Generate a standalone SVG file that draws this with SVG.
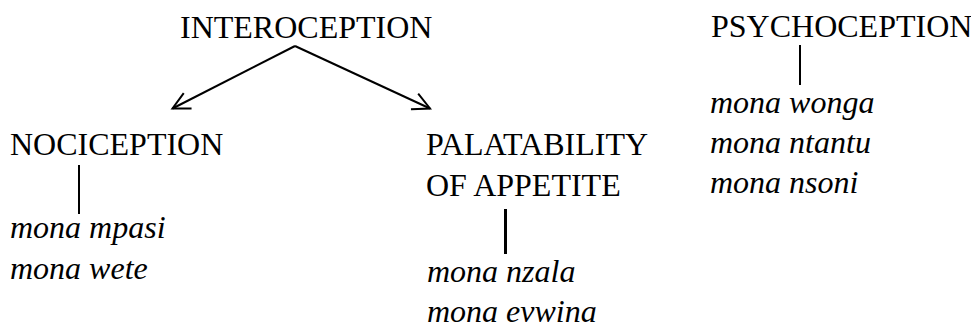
<svg xmlns="http://www.w3.org/2000/svg" width="971" height="324" viewBox="0 0 971 324">
<style>
.t{font-family:"Liberation Serif","Times New Roman",serif;font-size:32px;fill:#000}
.i{font-family:"Liberation Serif","Times New Roman",serif;font-size:32px;font-style:italic;fill:#000}
.c{stroke:#000;fill:none}
</style>
<defs>
<marker id="ah" markerUnits="userSpaceOnUse" markerWidth="40" markerHeight="40" refX="0" refY="0" viewBox="-20 -20 40 40" orient="auto" overflow="visible">
<path d="M-17,-8.6 L0,0 L-17,8.6" fill="none" stroke="#000" stroke-width="2" stroke-linejoin="miter"/>
</marker>
</defs>
<rect width="971" height="324" fill="#fff"/>
<g id="connectors">
<line class="c" x1="295" y1="46" x2="172.5" y2="108.5" stroke-width="2" marker-end="url(#ah)"/>
<line class="c" x1="295" y1="46" x2="430" y2="108.5" stroke-width="2" marker-end="url(#ah)"/>
<line class="c" x1="79" y1="165" x2="79" y2="214" stroke-width="2"/>
<line class="c" x1="505.5" y1="209" x2="505.5" y2="254" stroke-width="3"/>
<line class="c" x1="800" y1="45" x2="800" y2="85" stroke-width="2"/>
</g>
<g id="interoception"><text class="t" x="180" y="38">INTEROCEPTION</text></g>
<g id="psychoception">
<text class="t" x="711" y="37">PSYCHOCEPTION</text>
<text class="i" x="710" y="113">mona wonga</text>
<text class="i" x="710" y="153">mona ntantu</text>
<text class="i" x="710" y="193">mona nsoni</text>
</g>
<g id="nociception">
<text class="t" x="10" y="155">NOCICEPTION</text>
<text class="i" x="10" y="238">mona mpasi</text>
<text class="i" x="10" y="279">mona wete</text>
</g>
<g id="palatability">
<text class="t" x="426" y="155">PALATABILITY</text>
<text class="t" x="426" y="196">OF APPETITE</text>
<text class="i" x="427" y="282">mona nzala</text>
<text class="i" x="427" y="322">mona evwina</text>
</g>
</svg>
